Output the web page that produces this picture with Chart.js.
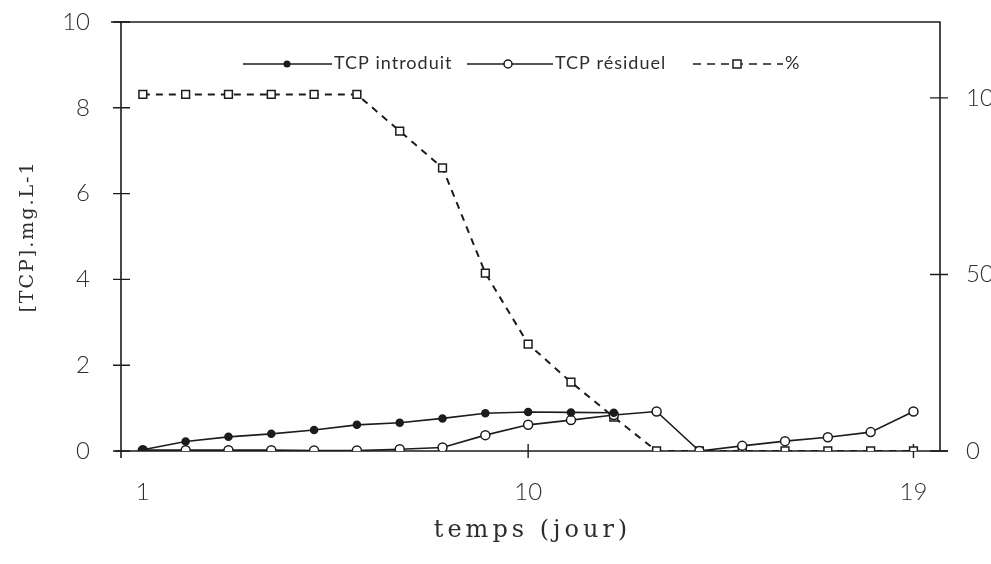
<!DOCTYPE html>
<html lang="fr">
<head>
<meta charset="utf-8">
<title>TCP introduit / résiduel</title>
<script src="https://cdn.jsdelivr.net/npm/chart.js@4.4.1/dist/chart.umd.min.js"></script>
<style>
  html, body { margin: 0; padding: 0; background: #fff; overflow: hidden; }
  .wrap { width: 991px; height: 564px; overflow: hidden; }
  canvas { display: block; }
</style>
</head>
<body>
<div class="wrap">
  <canvas id="tcpChart" width="1020" height="564"></canvas>
</div>
<script>
// Series, one value per day
const days = [1, 2, 3, 4, 5, 6, 7, 8, 9, 10, 11, 12, 13, 14, 15, 16, 17, 18, 19];
const tcpIntroduit = [0.03, 0.22, 0.33, 0.40, 0.49, 0.61, 0.66, 0.76, 0.88, 0.91, 0.90, 0.89,
  null, null, null, null, null, null, null];
const tcpResiduel = [0.02, 0.02, 0.02, 0.02, 0.01, 0.01, 0.04, 0.08, 0.37, 0.61, 0.72, 0.84,
  0.92, 0.00, 0.12, 0.23, 0.32, 0.44, 0.92];
const pourcentage = [101, 101, 101, 101, 101, 101, 90.6, 80.2, 50.4, 30.3, 19.5, 9.6,
  0, 0, 0, 0, 0, 0, 0];

// Axis ticks
const xTicks = [1, 10, 19];
const leftTicks = [0, 2, 4, 6, 8, 10];
const rightTicks = [0, 50, 100];

const INK = "#1c1c1c";
const TEXT = "#2e2e2e";
const tickFont = { family: "Lato, 'Open Sans', sans-serif", size: 24, weight: "300" };

function toPoints(values) {
  return days.map((d, i) => ({ x: d, y: values[i] }));
}

// keep the plot box fixed: no extra room for half-labels at the ends
function noEndPadding(scale) {
  scale.paddingTop = 0;
  scale.paddingBottom = 0;
  scale.paddingLeft = 0;
  scale.paddingRight = 0;
}

// Frame around the plot and the small crossing tick marks
const framePlugin = {
  id: "frame",
  beforeDatasetsDraw(chart) {
    const { ctx, chartArea: a, scales } = chart;
    ctx.save();
    ctx.strokeStyle = INK;
    ctx.lineWidth = 1.6;
    ctx.beginPath();
    ctx.moveTo(a.left - 10, a.top);
    ctx.lineTo(a.right, a.top);
    ctx.lineTo(a.right, a.bottom);
    ctx.moveTo(a.left, a.top);
    ctx.lineTo(a.left, a.bottom + 7);
    ctx.moveTo(a.left - 6, a.bottom);
    ctx.lineTo(a.right + 8, a.bottom);
    ctx.stroke();

    ctx.lineWidth = 1.4;
    ctx.beginPath();
    leftTicks.forEach((v) => {
      const y = scales.y.getPixelForValue(v);
      ctx.moveTo(a.left - 8, y);
      ctx.lineTo(a.left + 9, y);
    });
    rightTicks.forEach((v) => {
      const y = scales.y1.getPixelForValue(v);
      ctx.moveTo(a.right - 10, y);
      ctx.lineTo(a.right + 8, y);
    });
    xTicks.slice(1).forEach((v) => {
      const x = scales.x.getPixelForValue(v);
      ctx.moveTo(x, a.bottom - 7);
      ctx.lineTo(x, a.bottom + 7);
    });
    ctx.stroke();
    ctx.restore();
  }
};

// Legend drawn inside the plot: line + marker + label
const legendPlugin = {
  id: "inlineLegend",
  afterDraw(chart) {
    const { ctx } = chart;
    const y = 64;
    const items = [
      { x0: 243, x1: 332, mx: 287, text: "TCP introduit", style: "dot", dash: [] },
      { x0: 467, x1: 553, mx: 508, text: "TCP résiduel", style: "ring", dash: [] },
      { x0: 693, x1: 783, mx: 737, text: "%", style: "square", dash: [8, 6] }
    ];
    ctx.save();
    items.forEach((it) => {
      ctx.strokeStyle = INK;
      ctx.lineWidth = 1.5;
      ctx.setLineDash(it.dash);
      ctx.beginPath();
      ctx.moveTo(it.x0, y);
      ctx.lineTo(it.x1, y);
      ctx.stroke();
      ctx.setLineDash([]);
      ctx.beginPath();
      if (it.style === "dot") {
        ctx.fillStyle = INK;
        ctx.arc(it.mx, y, 3.5, 0, Math.PI * 2);
        ctx.fill();
      } else if (it.style === "ring") {
        ctx.fillStyle = "#fff";
        ctx.arc(it.mx, y, 4, 0, Math.PI * 2);
        ctx.fill();
        ctx.stroke();
      } else {
        ctx.fillStyle = "#fff";
        ctx.rect(it.mx - 4, y - 4, 8, 8);
        ctx.fill();
        ctx.stroke();
      }
      ctx.fillStyle = TEXT;
      ctx.font = "18px Lato, 'Open Sans', sans-serif";
      ctx.letterSpacing = "1px";
      ctx.textBaseline = "middle";
      ctx.textAlign = "left";
      ctx.fillText(it.text, it.x1 + 2, y - 1);
      ctx.letterSpacing = "0px";
    });
    ctx.restore();
  }
};

// Axis titles in a spaced serif face
const titlesPlugin = {
  id: "axisTitles",
  afterDraw(chart) {
    const { ctx, chartArea: a } = chart;
    ctx.save();
    ctx.fillStyle = TEXT;
    ctx.textAlign = "center";
    ctx.textBaseline = "middle";
    ctx.letterSpacing = "4px";
    ctx.font = "24px 'DejaVu Serif', serif";
    ctx.fillText("temps (jour)", (a.left + a.right) / 2 + 2, 531);

    ctx.letterSpacing = "2px";
    ctx.font = "19px 'DejaVu Serif', serif";
    ctx.translate(28, (a.top + a.bottom) / 2);
    ctx.rotate(-Math.PI / 2);
    ctx.fillText("[TCP].mg.L-1", 0, 0);
    ctx.restore();
  }
};

const lineStyle = {
  borderColor: INK,
  borderWidth: 1.6,
  pointBorderColor: INK,
  pointBorderWidth: 1.5,
  tension: 0,
  spanGaps: false
};

new Chart(document.getElementById("tcpChart"), {
  type: "line",
  data: {
    datasets: [
      {
        ...lineStyle,
        label: "TCP introduit",
        data: toPoints(tcpIntroduit),
        yAxisID: "y",
        pointStyle: "circle",
        pointRadius: 3.5,
        pointBackgroundColor: INK
      },
      {
        ...lineStyle,
        label: "TCP résiduel",
        data: toPoints(tcpResiduel),
        yAxisID: "y",
        pointStyle: "circle",
        pointRadius: 4.5,
        pointBackgroundColor: "#fff"
      },
      {
        ...lineStyle,
        label: "%",
        data: toPoints(pourcentage),
        yAxisID: "y1",
        borderDash: [7, 6],
        borderWidth: 2,
        pointStyle: "rect",
        pointRadius: 5.5,
        pointBackgroundColor: "#fff"
      }
    ]
  },
  options: {
    responsive: false,
    animation: false,
    layout: { padding: { top: 22, left: 0, right: 0, bottom: 0 } },
    plugins: {
      legend: { display: false },
      tooltip: { enabled: false }
    },
    scales: {
      x: {
        type: "linear",
        min: 0.49,
        max: 19.62,
        afterBuildTicks: (scale) => { scale.ticks = xTicks.map((v) => ({ value: v })); },
        afterFit: (scale) => { scale.height = 113; noEndPadding(scale); },
        grid: { display: false, drawTicks: false },
        border: { display: false },
        ticks: { color: TEXT, font: tickFont, padding: 27, maxRotation: 0 }
      },
      y: {
        position: "left",
        min: 0,
        max: 10,
        afterBuildTicks: (scale) => { scale.ticks = leftTicks.map((v) => ({ value: v })); },
        afterFit: (scale) => { scale.width = 121; noEndPadding(scale); },
        grid: { display: false, drawTicks: false },
        border: { display: false },
        ticks: { color: TEXT, font: tickFont, padding: 31 }
      },
      y1: {
        position: "right",
        min: 0,
        max: 121.5,
        afterBuildTicks: (scale) => { scale.ticks = rightTicks.map((v) => ({ value: v })); },
        afterFit: (scale) => { scale.width = 80; noEndPadding(scale); },
        grid: { display: false, drawTicks: false },
        border: { display: false },
        ticks: { color: TEXT, font: tickFont, padding: 26 }
      }
    }
  },
  plugins: [framePlugin, legendPlugin, titlesPlugin]
});
</script>
</body>
</html>
